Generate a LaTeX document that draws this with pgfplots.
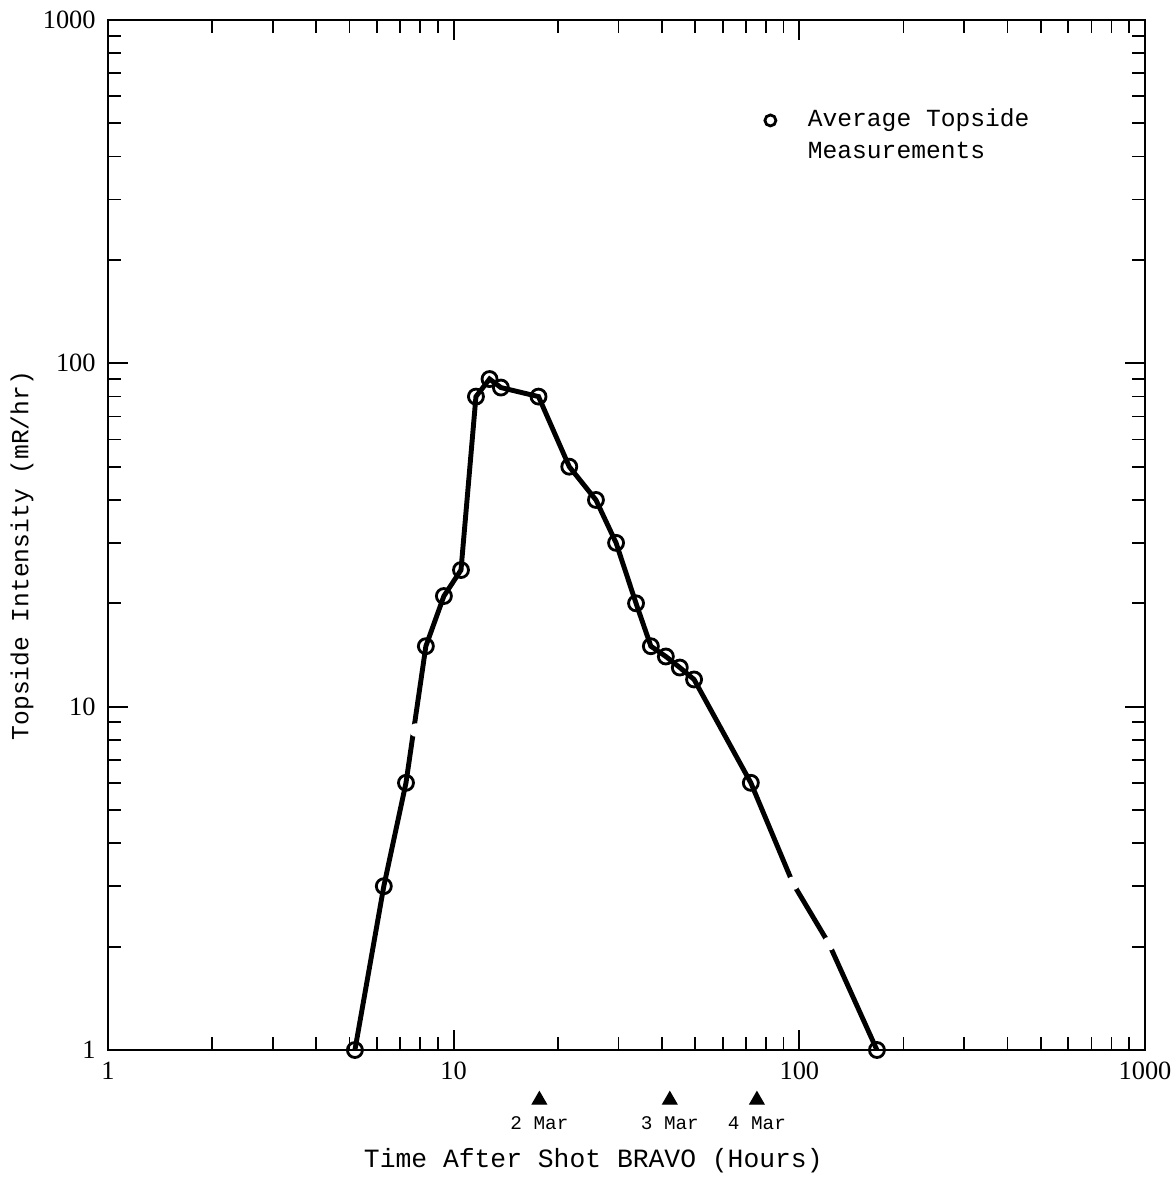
\documentclass[border=0pt]{standalone}
\usepackage{fontspec}
\setmainfont{Liberation Serif}
\setmonofont{Liberation Mono}
\usepackage{pgfplots}
\pgfplotsset{compat=1.18}
\begin{document}
\begin{tikzpicture}
\begin{axis}[
  scale only axis,
  width=103.7mm, height=103mm,
  xmode=log, ymode=log,
  xmin=1, xmax=1000, ymin=1, ymax=1000,
  xtick={1,10,100,1000}, xticklabels={1,10,100,1000},
  ytick={1,10,100,1000}, yticklabels={1,10,100,1000},
  tick align=inside,
  major tick length=2mm, minor tick length=1.3mm,
  tick style={black, line width=0.5pt},
  axis line style={line width=0.8pt},
  tick label style={font=\fontsize{7.5}{9}\selectfont},
  clip=false,
  xlabel={Time After Shot BRAVO (Hours)},
  ylabel={Topside Intensity (mR/hr)},
  xlabel style={at={(axis description cs:0.468,-0.107)}, anchor=center, font=\ttfamily\fontsize{7.5}{9}\selectfont},
  ylabel style={at={(axis description cs:-0.083,0.48)}, anchor=center, font=\ttfamily\fontsize{7}{9}\selectfont},
  legend style={at={(axis description cs:0.599,0.928)}, anchor=north west, draw=none, fill=none,
    font=\ttfamily\fontsize{7}{9}\selectfont, row sep=-1pt, column sep=2.5mm},
  legend cell align=left,
]
\addlegendimage{only marks, mark=o, mark size=0.55mm, mark options={line width=0.8pt}}
\addlegendentry{Average Topside}
\addlegendimage{empty legend}
\addlegendentry{Measurements}
% curve
\addplot[forget plot, black, line width=1.4pt] coordinates {
(5.18,1) (6.28,3) (7.28,6) (8.31,15) (9.37,21) (10.5,25) (11.6,80) (12.7,90)
(13.7,85) (17.6,80) (21.6,50) (25.8,40) (29.5,30) (33.7,20) (37.2,15) (41.1,14)
(45.1,13) (49.6,12) (72.4,6) (95.8,3.06) (121.8,2.04) (167.7,1)
};
% measurement circles
\addplot[forget plot, only marks, black, mark=o, mark size=0.75mm,
  mark options={fill=white, line width=0.8pt}] coordinates {
(5.18,1) (6.28,3) (7.28,6) (8.31,15) (9.37,21) (10.5,25) (11.6,80) (12.7,90)
(13.7,85) (17.6,80) (21.6,50) (25.8,40) (29.5,30) (33.7,20) (37.2,15) (41.1,14)
(45.1,13) (49.6,12) (72.4,6) (167.7,1)
};
% gaps in the line
\addplot[forget plot, only marks, mark=*, mark size=0.6mm, mark options={fill=white, draw=white}]
  coordinates {(7.78,8.55) (95.8,3.06) (121.8,2.04)};
% date markers
\addplot[forget plot, only marks, mark=triangle*, mark size=0.8mm, black,
  nodes near coords, point meta=explicit symbolic,
  every node near coord/.style={anchor=center, yshift=-2.3mm, font=\ttfamily\fontsize{5.5}{6}\selectfont}]
  coordinates {(17.7,0.715)[2 Mar] (42.2,0.715)[3 Mar] (75.4,0.715)[4 Mar]};
\end{axis}
\pgfresetboundingbox
\path ([shift={(-10.8mm,-15mm)}]current axis.south west) rectangle ([shift={(3mm,2mm)}]current axis.north east);
\end{tikzpicture}
\end{document}
